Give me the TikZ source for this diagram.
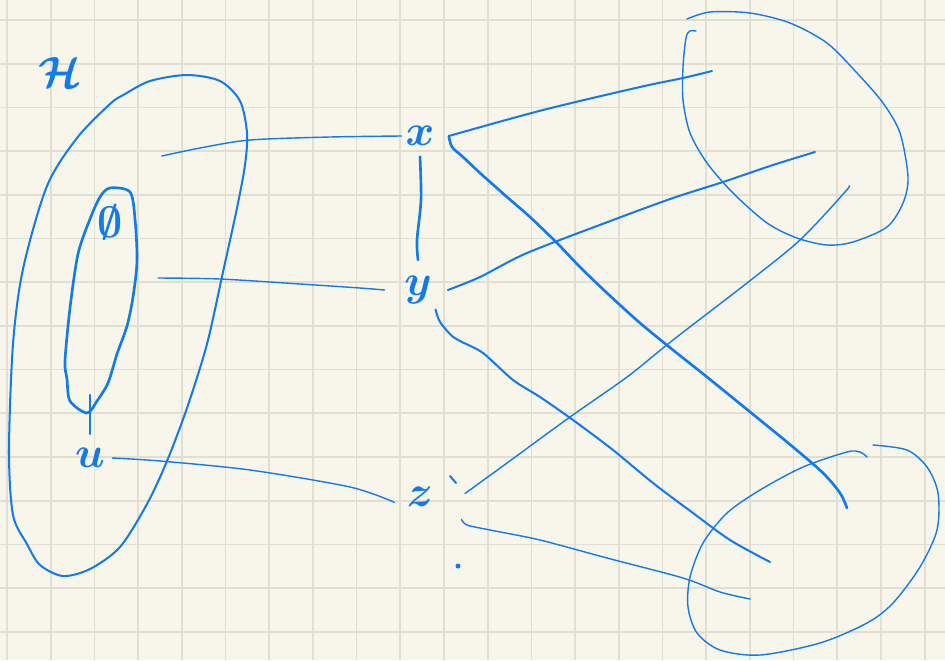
\documentclass[tikz,border=0pt]{standalone}
\usetikzlibrary{arrows.meta}

\definecolor{ink}{RGB}{18,122,235}
\definecolor{paper}{RGB}{248,246,235}
\definecolor{gridc}{RGB}{225,223,210}

\begin{document}
\begin{tikzpicture}
    [
        x=0.02cm, y=-0.02cm,
        gridline/.style={draw=gridc, line width=1pt},
        pen/.style={draw=ink, line width=1.15pt, line cap=round, line join=round},
        thinpen/.style={draw=ink, line width=0.8pt, line cap=round, line join=round},
        boldpen/.style={draw=ink, line width=1.5pt, line cap=round, line join=round},
        letter/.style={text=ink, inner sep=0pt, font=\fontsize{31}{33}\selectfont\boldmath}
    ]
        % =========================================================================
        % PAPER
        % =========================================================================
        \fill [paper] (0,0) rectangle (945,660);
        \useasboundingbox (0,0) rectangle (945,660);
        \foreach \i in {0,...,21}
            \draw [gridline] ({7+43.7*\i},0) -- ({7+43.7*\i},660);
        \foreach \j in {0,...,14}
            \draw [gridline] (0,{20+43.7*\j}) -- (945,{20+43.7*\j});

        % =========================================================================
        % NODES
        % =========================================================================
        % --- Left region ---
        \node [letter, font=\fontsize{36}{38}\selectfont\boldmath] (H) at (60,72) {$\mathcal{H}$};
        \node [letter] (empty) at (110,222) {$\emptyset$};
        \node [letter] (u) at (90,458) {$u$};
        % --- Middle column ---
        \node [letter] (x) at (420,136) {$x$};
        \node [letter] (y) at (418,290) {$y$};
        \node [letter] (z) at (420,497) {$z$};

        % --- Ports ---
        \coordinate (x-l) at ([xshift=-2pt]x.west);
        \coordinate (x-r) at ([xshift=8pt]x.east);
        \coordinate (x-b) at ([yshift=-6pt]x.south);
        \coordinate (y-t) at ([yshift=9pt]y.north);
        \coordinate (y-l) at ([xshift=-11pt]y.west);
        \coordinate (y-r) at ([xshift=9pt]y.east);
        \coordinate (y-d) at ([shift={(2pt,-3pt)}]y.south east);
        \coordinate (z-l) at ([shift={(-7pt,-3pt)}]z.west);
        \coordinate (z-r) at ([shift={(18pt,2pt)}]z.east);
        \coordinate (z-d) at ([shift={(16pt,-7pt)}]z.south east);
        \coordinate (u-r) at ([xshift=4pt]u.east);
        \coordinate (u-t) at ([yshift=8pt]u.north);

        % --- Free ends ---
        \coordinate (hx) at (162,156);
        \coordinate (hy) at (158,278);
        \coordinate (loop-b) at (90,395);
        \coordinate (a1) at (712,71);
        \coordinate (a2) at (815,152);
        \coordinate (a3) at (849,186);
        \coordinate (b1) at (847,508);
        \coordinate (b2) at (770,562);
        \coordinate (b3) at (750,599);

        % =========================================================================
        % REGIONS
        % =========================================================================
        % --- H ---
        \draw [pen] plot [smooth cycle] coordinates {
            (125,94) (150,81) (187,75) (220,81) (240,101) (247,133) (245,165)
            (237,208) (223,272) (207,344) (187,408) (167,461) (147,504) (120,547)
            (90,569) (63,576) (40,565) (27,544) (13,515) (9,451) (13,344)
            (23,269) (47,186) (77,138) (110,104)};
        % --- empty set loop ---
        \draw [boldpen] plot [smooth cycle] coordinates {
            (110,188) (130,192) (135,219) (137,261) (133,297) (127,326) (117,354)
            (108,383) (97,401) (87,413) (70,401) (67,379) (65,361) (70,308)
            (78,254) (90,219) (100,197)};
        % --- upper right ---
        \draw [thinpen] plot [smooth] coordinates {
            (687,19) (710,12) (750,13) (790,23) (827,43) (857,73) (883,103)
            (900,133) (908,177) (903,203) (887,227) (853,242) (827,245) (797,238)
            (767,223) (733,193) (707,163) (690,133) (683,100) (683,67) (686,38)
            (690,31) (696,31)};
        % --- lower right ---
        \draw [thinpen] plot [smooth] coordinates {
            (873,445) (907,450) (927,467) (938,493) (937,530) (920,567) (893,603)
            (867,623) (820,643) (760,655) (720,650) (697,633) (688,607) (690,577)
            (703,543) (727,513) (760,490) (803,467) (847,452) (860,452) (867,457)};

        % =========================================================================
        % PATHS
        % =========================================================================
        % --- H to column ---
        \draw [thinpen] plot [smooth] coordinates {(hx) (200,148) (250,140) (330,137) (x-l)};
        \draw [thinpen] plot [smooth] coordinates {(hy) (220,279) (300,284) (360,288) (y-l)};
        \draw [thinpen] plot [smooth] coordinates {(u-r) (160,461) (250,470) (350,487) (z-l)};
        \draw [boldpen] (loop-b) -- (u-t);
        % --- x to y ---
        \draw [boldpen] plot [smooth] coordinates {(x-b) (421,200) (417,240) (y-t)};
        % --- column to upper right ---
        \draw [pen] plot [smooth] coordinates {(x-r) (543,110) (640,87) (683,78) (a1)};
        \draw [pen] plot [smooth] coordinates {
            (y-r) (480,277) (527,253) (613,220) (673,198) (723,182) (773,165) (a2)};
        \draw [thinpen] plot [smooth] coordinates {
            (z-r) (507,463) (570,417) (627,377) (673,340) (747,283) (800,240) (845,192) (a3)};
        % --- column to lower right ---
        \draw [boldpen] plot [smooth] coordinates {
            (x-r) (452,147) (463,157) (480,173) (507,197) (530,217) (557,243) (580,267)
            (607,293) (640,323) (673,350) (707,377) (760,420) (793,447) (823,473)
            (840,493) (b1)};
        \draw [pen] plot [smooth] coordinates {
            (y-d) (440,322) (452,336) (462,342) (483,353) (513,380) (540,397) (573,420)
            (613,450) (653,483) (693,513) (730,540) (b2)};
        \draw [thinpen] plot [smooth] coordinates {
            (z-d) (467,525) (490,530) (540,540) (607,558) (683,578) (720,592) (b3)};
        % --- marks ---
        \draw [pen] (450,476) -- (456,483);
        \fill [ink] (458,566) circle (2.5);

    \end{tikzpicture}
\end{document}
